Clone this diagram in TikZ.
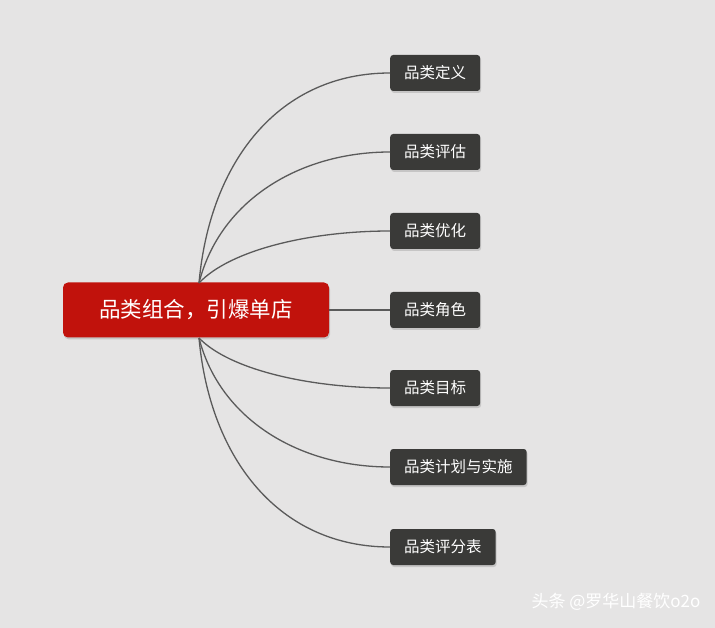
\documentclass[tikz,border=0pt]{standalone}
\usepackage{fontspec}
\setmainfont{Noto Sans CJK SC}
\usetikzlibrary{shadows}
\definecolor{bg}{HTML}{E5E4E4}
\definecolor{rootred}{HTML}{C1120C}
\definecolor{leafgray}{HTML}{3A3A38}
\definecolor{linegray}{HTML}{5A5A5A}
\begin{document}
\begin{tikzpicture}[x=1pt,y=-1pt,
  rootbox/.style={fill=rootred,rounded corners=5pt,text=white,font=\fontsize{21.5}{24}\selectfont,minimum width=266pt,minimum height=55pt,inner sep=0pt,drop shadow={opacity=0.3,shadow xshift=1pt,shadow yshift=-2pt}},
  leafbox/.style={fill=leafgray,rounded corners=3pt,text=white,font=\fontsize{15.5}{17}\selectfont,minimum height=36pt,inner xsep=14pt,anchor=west,drop shadow={opacity=0.3,shadow xshift=1pt,shadow yshift=-2pt}},
  conn/.style={draw=linegray,line width=1.3pt}]
\fill[bg] (0,0) rectangle (715,628);
\useasboundingbox (0,0) rectangle (715,628);
\node[rootbox] (root) at (196,310) {品类组合，引爆单店};
\node[leafbox] (l1) at (390,73) {品类定义};
\node[leafbox] (l2) at (390,152) {品类评估};
\node[leafbox] (l3) at (390,231) {品类优化};
\node[leafbox] (l4) at (390,310) {品类角色};
\node[leafbox] (l5) at (390,388) {品类目标};
\node[leafbox] (l6) at (390,467) {品类计划与实施};
\node[leafbox] (l7) at (390,547) {品类评分表};
\coordinate (t) at (199,283);
\coordinate (b) at (199,338);
\draw[conn] (t) .. controls (210,160) and (280,73) .. (l1.west);
\draw[conn] (t) .. controls (220,200) and (300,152) .. (l2.west);
\draw[conn] (t) .. controls (230,250) and (310,231) .. (l3.west);
\draw[conn] (root.east) -- (l4.west);
\draw[conn] (b) .. controls (230,370) and (310,388) .. (l5.west);
\draw[conn] (b) .. controls (220,420) and (300,467) .. (l6.west);
\draw[conn] (b) .. controls (210,460) and (280,547) .. (l7.west);
\node[text=white,font=\fontsize{17}{19}\selectfont,anchor=east] (wm) at (704,602) {头条 @罗华山餐饮o2o};
\end{tikzpicture}
\end{document}
